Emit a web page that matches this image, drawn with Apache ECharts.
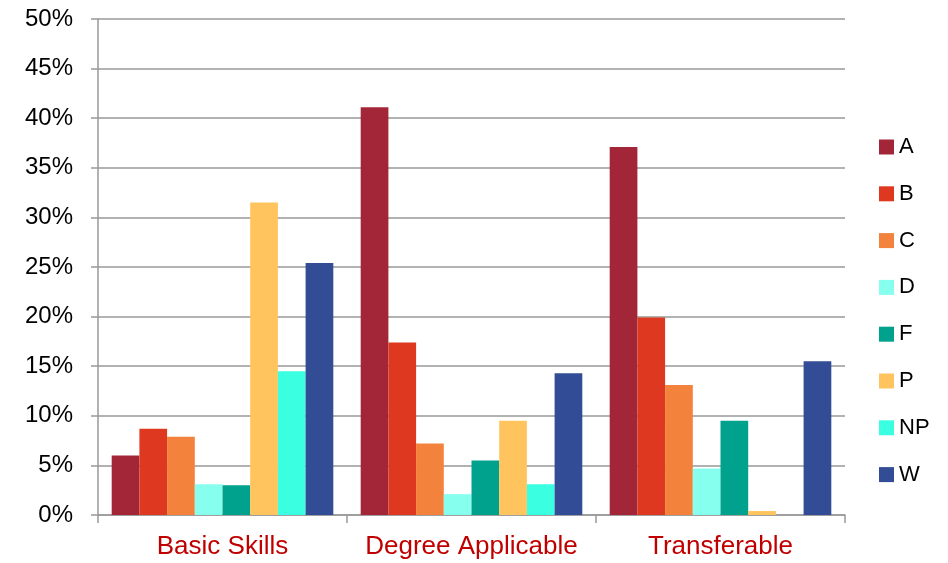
<!DOCTYPE html>
<html>
<head>
<meta charset="utf-8">
<script src="https://cdn.jsdelivr.net/npm/echarts@6/dist/echarts.min.js"></script>
<style>
  html, body { margin: 0; padding: 0; background: #fff; }
  #chart-container { width: 948px; height: 563px; }
</style>
</head>
<body>
<div id="chart-container"></div>
<script>
    // categories and grades
    var categories = ['Basic Skills', 'Degree Applicable', 'Transferable'];
    var grades = ['A', 'B', 'C', 'D', 'F', 'P', 'NP', 'W'];
    var colors = ['#A32638', '#DE3820', '#F3823C', '#86FFEE', '#00A28D', '#FFC45E', '#3AFFE1', '#324D95'];

    // percent per grade, one value per category
    var valA  = [6.0, 41.1, 37.1];
    var valB  = [8.7, 17.4, 19.9];
    var valC  = [7.9, 7.2, 13.1];
    var valD  = [3.1, 2.1, 4.7];
    var valF  = [3.0, 5.5, 9.5];
    var valP  = [31.5, 9.5, 0.4];
    var valNP = [14.5, 3.1, 0];
    var valW  = [25.4, 14.3, 15.5];

    var values = [valA, valB, valC, valD, valF, valP, valNP, valW];

    var chart = echarts.init(document.getElementById('chart-container'));

    var series = grades.map(function(g, i) {
        return {
            name: g,
            type: 'bar',
            data: values[i],
            barGap: '0%',
            barCategoryGap: '11%',
            itemStyle: { color: colors[i] }
        };
    });

    chart.setOption({
        animation: false,
        grid: { left: 98, right: 103, top: 19, bottom: 48 },
        legend: {
            orient: 'vertical',
            left: 874,
            top: 130,
            itemWidth: 15,
            itemHeight: 15,
            itemGap: 22.8,
            icon: 'rect',
            textStyle: { fontSize: 22, lineHeight: 24, color: '#000', fontFamily: 'Liberation Sans' },
            data: grades
        },
        xAxis: {
            type: 'category',
            data: categories,
            axisLine: { lineStyle: { color: '#999', width: 1.5 } },
            axisTick: { show: true, length: 8, lineStyle: { color: '#999', width: 1.5 } },
            axisLabel: { interval: 0, fontSize: 26, color: '#C00000', fontFamily: 'Liberation Sans', margin: 19 }
        },
        yAxis: {
            type: 'value',
            min: 0,
            max: 50,
            interval: 5,
            axisLine: { show: true, lineStyle: { color: '#999', width: 1.5 } },
            axisTick: { show: true, length: 7, lineStyle: { color: '#999', width: 1.5 } },
            splitLine: { lineStyle: { color: '#999', width: 1.5 } },
            axisLabel: {
                fontSize: 24,
                color: '#000',
                fontFamily: 'Liberation Sans',
                margin: 25,
                formatter: '{value}%'
            }
        },
        series: series
    });
</script>
</body>
</html>
